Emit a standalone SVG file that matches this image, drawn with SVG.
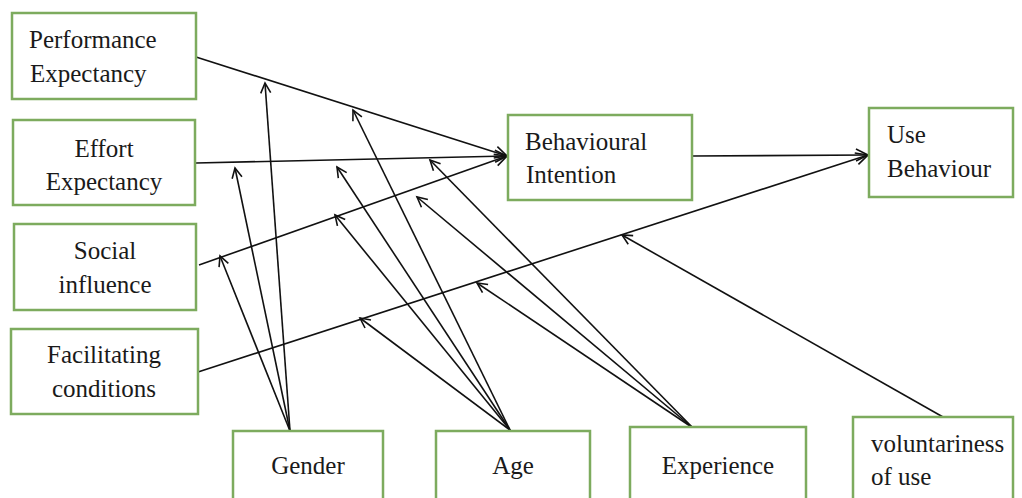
<svg xmlns="http://www.w3.org/2000/svg" width="1022" height="498" viewBox="0 0 1022 498">
<style>
.box{fill:#fff;stroke:#7dab5e;stroke-width:2.5}
.t{font-family:'Liberation Serif','DejaVu Serif',serif;font-size:25px;fill:#1a1a1a}
.c{text-anchor:middle}
.ln{stroke:#111;stroke-width:1.6;fill:none}
.big{marker-end:url(#ah)}
.sm{marker-end:url(#as)}
</style>
<defs>
<marker id="ah" markerUnits="userSpaceOnUse" markerWidth="16" markerHeight="16" refX="13" refY="7" orient="auto" viewBox="0 0 16 14">
<path d="M1,1 L13,7 L1,13" fill="none" stroke="#111" stroke-width="1.6"/>
</marker>
<marker id="as" markerUnits="userSpaceOnUse" markerWidth="14" markerHeight="14" refX="11" refY="6" orient="auto" viewBox="0 0 14 12">
<path d="M1,1 L11,6 L1,11" fill="none" stroke="#111" stroke-width="1.6"/>
</marker>
</defs>
<rect width="1022" height="498" fill="#fff"/>
<g id="connectors">
<line class="ln big" x1="196" y1="57" x2="507" y2="156"/>
<line class="ln big" x1="196" y1="163" x2="507" y2="156"/>
<line class="ln big" x1="199" y1="265" x2="507" y2="156"/>
<line class="ln big" x1="198" y1="372" x2="868" y2="155"/>
<line class="ln big" x1="692" y1="156" x2="868" y2="155"/>
<line class="ln sm" x1="290" y1="431" x2="265" y2="83"/>
<line class="ln sm" x1="290" y1="431" x2="235" y2="168"/>
<line class="ln sm" x1="290" y1="431" x2="220" y2="256"/>
<line class="ln sm" x1="510" y1="430" x2="353" y2="110"/>
<line class="ln sm" x1="510" y1="430" x2="337" y2="167"/>
<line class="ln sm" x1="510" y1="430" x2="335" y2="215"/>
<line class="ln sm" x1="510" y1="430" x2="360" y2="318"/>
<line class="ln sm" x1="693" y1="428" x2="430" y2="160"/>
<line class="ln sm" x1="693" y1="428" x2="417" y2="197"/>
<line class="ln sm" x1="693" y1="428" x2="477" y2="283"/>
<line class="ln sm" x1="943" y1="417" x2="622" y2="235"/>
</g>
<g id="performance-expectancy">
<rect class="box" x="12" y="13" width="184" height="86"/>
<text class="t" x="29" y="48">Performance</text>
<text class="t" x="30" y="82">Expectancy</text>
</g>
<g id="effort-expectancy">
<rect class="box" x="13" y="120" width="182" height="85"/>
<text class="t c" x="104" y="157">Effort</text>
<text class="t c" x="104" y="190">Expectancy</text>
</g>
<g id="social-influence">
<rect class="box" x="14" y="224" width="182" height="86"/>
<text class="t c" x="105" y="259">Social</text>
<text class="t c" x="105" y="293">influence</text>
</g>
<g id="facilitating-conditions">
<rect class="box" x="11" y="329" width="187" height="85"/>
<text class="t c" x="104" y="363">Facilitating</text>
<text class="t c" x="104" y="397">conditions</text>
</g>
<g id="behavioural-intention">
<rect class="box" x="508" y="115" width="184" height="85"/>
<text class="t" x="525" y="150">Behavioural</text>
<text class="t" x="526" y="183">Intention</text>
</g>
<g id="use-behaviour">
<rect class="box" x="869" y="108" width="144" height="89"/>
<text class="t" x="887" y="143">Use</text>
<text class="t" x="887" y="177">Behaviour</text>
</g>
<g id="gender">
<rect class="box" x="233" y="431" width="150" height="80"/>
<text class="t c" x="308" y="474">Gender</text>
</g>
<g id="age">
<rect class="box" x="436" y="431" width="154" height="80"/>
<text class="t c" x="513" y="474">Age</text>
</g>
<g id="experience">
<rect class="box" x="630" y="427" width="176" height="84"/>
<text class="t c" x="718" y="474">Experience</text>
</g>
<g id="voluntariness-of-use">
<rect class="box" x="853" y="417" width="160" height="94"/>
<text class="t" x="871" y="452">voluntariness</text>
<text class="t" x="871" y="485">of use</text>
</g>
</svg>
